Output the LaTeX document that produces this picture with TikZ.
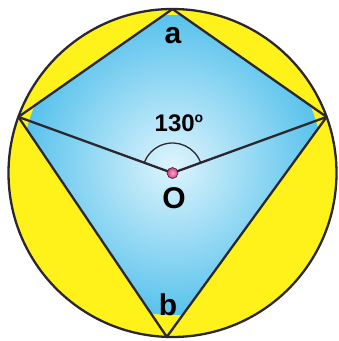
\documentclass[tikz,border=0pt]{standalone}
\usepackage{fontspec}
\setmainfont{Liberation Sans}
\usetikzlibrary{calc}
\definecolor{ring}{HTML}{FFF11A}
\definecolor{edge}{HTML}{2B2730}
\definecolor{blueout}{HTML}{58C2EC}
\definecolor{bluein}{HTML}{DDF4FD}
\definecolor{dotout}{HTML}{D8347F}
\definecolor{dotin}{HTML}{F7A9CF}
\tikzset{
  outline/.style={draw=edge, line width=2.3pt, line join=round},
  lbl/.style={font=\bfseries\fontsize{30}{30}\selectfont, text=black, inner sep=0pt},
  anglbl/.style={font=\bfseries\fontsize{24}{24}\selectfont, text=black, inner sep=0pt},
}
\begin{document}
\begin{tikzpicture}[x=1pt,y=-1pt]
\useasboundingbox (0,0) rectangle (339,341);
\coordinate (O) at (172.5,173);
\coordinate (A) at ($(O)+(-90:164)$);
\coordinate (L) at ($(O)+(-160:164)$);
\coordinate (R) at ($(O)+(-20:164)$);
\coordinate (B) at ($(O)+(92:164)$);
% circle
\fill[ring] (O) circle[radius=164];
% quadrilateral with radial gradient
\begin{scope}
  \clip (A) -- (R) -- (B) -- (L) -- cycle;
  \shade[inner color=bluein, outer color=blueout] ($(O)+(0,-8)$) circle[radius=150];
\end{scope}
\draw[outline] (A) -- (R) -- (B) -- (L) -- cycle;
\draw[outline] (O) circle[radius=164];
\draw[outline] (L) -- (O) -- (R);
% angle arc
\draw[draw=edge, line width=1.3pt] ($(O)+(-20:30)$) arc[start angle=-20, end angle=-160, radius=30];
% center dot
\shade[inner color=dotin, outer color=dotout] (O) circle[radius=5.5];
\draw[draw=edge, line width=0.6pt] (O) circle[radius=5.5];
% labels
\node[lbl] (la) at (173,36) {a};
\node[lbl] (lb) at (168,305) {b};
\node[lbl] (lo) at (174,198) {O};
\node[anglbl] (lang) at (179,123) {130\raisebox{0.35em}{\fontsize{14}{14}\selectfont o}};
\end{tikzpicture}
\end{document}
